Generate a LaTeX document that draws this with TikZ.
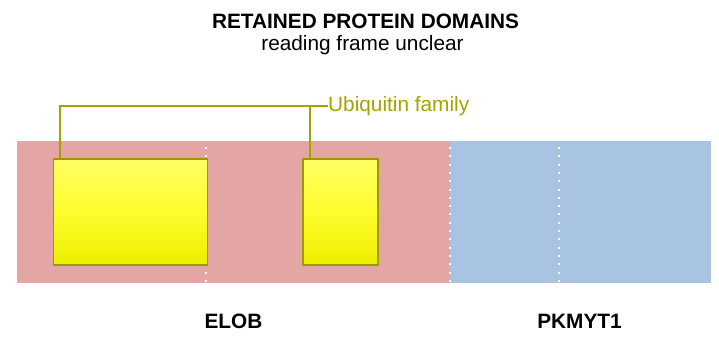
\documentclass[tikz,border=0pt]{standalone}
\usepackage{fontspec}
\setmainfont{Liberation Sans}
\definecolor{exonred}{RGB}{228,165,165}
\definecolor{exonblue}{RGB}{168,196,226}
\definecolor{domainedge}{RGB}{160,152,0}
\definecolor{calloutcol}{RGB}{163,163,0}
\definecolor{domaintop}{RGB}{255,255,100}
\definecolor{domainmid}{RGB}{253,253,45}
\definecolor{domainbot}{RGB}{238,238,0}
\begin{document}
\begin{tikzpicture}[x=1pt,y=-1pt,
  segment/.style={draw=none,inner sep=0pt,minimum height=142pt,anchor=north west},
  separator/.style={white,line width=2pt,dash pattern=on 2pt off 6.3pt},
  domainbox/.style={draw=domainedge,line width=1.6pt,inner sep=0pt,minimum height=106pt,
    top color=domaintop,bottom color=domainbot,middle color=domainmid},
  callout/.style={draw=calloutcol,line width=1.6pt},
  calloutlabel/.style={text=calloutcol,anchor=west,inner sep=0pt,font=\fontsize{20.8}{24}\selectfont},
  genename/.style={anchor=base,inner sep=0pt,font=\bfseries\fontsize{20.8}{24}\selectfont}]
\useasboundingbox (0,0) rectangle (719,342);
\fill[white] (0,0) rectangle (719,342);

% title
\node[anchor=base,inner sep=0pt,font=\bfseries\fontsize{20.8}{24}\selectfont] (title) at (365.5,29) {RETAINED PROTEIN DOMAINS};
\node[anchor=base,inner sep=0pt,font=\fontsize{20.8}{24}\selectfont] (subtitle) at (362.5,50.5) {reading frame unclear};

% gene segments
\node[segment,fill=exonred,minimum width=433pt] (elob) at (17,141) {};
\node[segment,fill=exonblue,minimum width=261pt] (pkmyt) at (450,141) {};

% exon boundaries
\draw[separator] (206,147) -- (206,283);
\draw[separator] (450,147) -- (450,283);
\draw[separator] (559,147) -- (559,283);

% retained domains
\node[domainbox,minimum width=154pt] (ubq1) at (130.6,212) {};
\node[domainbox,minimum width=75pt] (ubq2) at (340.5,212) {};

% domain family label
\node[calloutlabel] (ubqlabel) at (328,106.2) {Ubiquitin family};
\draw[callout] ([xshift=7.2pt]ubq1.north west) |- (ubqlabel.west);
\draw[callout] ([xshift=7.7pt]ubq2.north west) -- ([xshift=7.7pt]ubq2.north west |- ubqlabel.west);

% gene names
\node[genename] (elobname) at (233.5,328.5) {ELOB};
\node[genename] (pkmytname) at (579.5,328.5) {PKMYT1};
\end{tikzpicture}
\end{document}
